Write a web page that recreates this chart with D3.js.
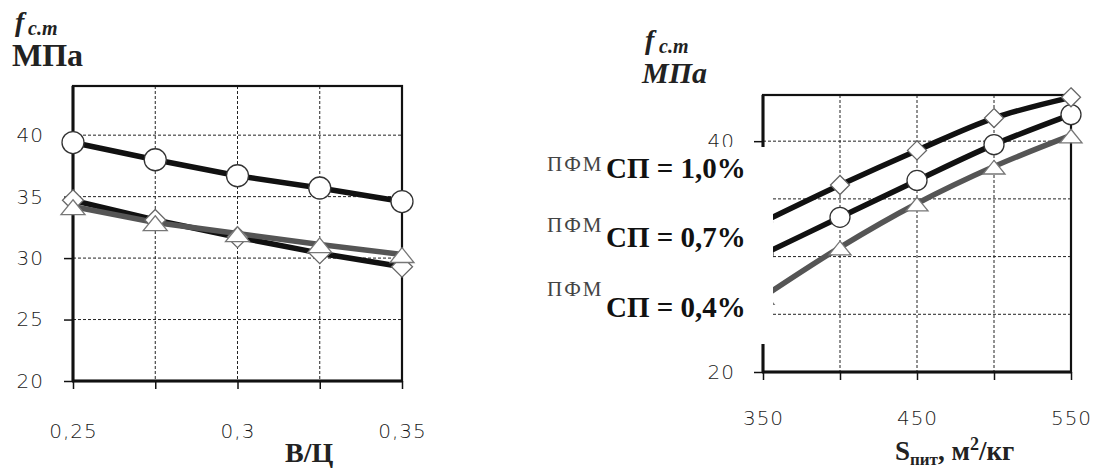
<!DOCTYPE html>
<html><head><meta charset="utf-8">
<script src="https://cdn.jsdelivr.net/npm/d3@7"></script>
<style>
html,body{margin:0;padding:0;background:#fff;}
svg{display:block;}
.tick text{font-family:"DejaVu Sans",Verdana,sans-serif;font-size:20px;font-weight:200;fill:#1a1a1a;letter-spacing:1px;}
.serif{font-family:"Liberation Serif","Times New Roman",serif;}
</style>
</head><body>
<svg id="c" width="1093" height="470"></svg>
<script>
// ---- data ----
const leftX = [0.25, 0.275, 0.3, 0.325, 0.35];
const leftXLabeled = [0.25, 0.3, 0.35];
const leftYTicks = [20, 25, 30, 35, 40];
const leftYLabeled = [20, 25, 30, 35, 40];
const leftCircle = [39.4, 38.0, 36.7, 35.7, 34.6];
const leftDiamond = [34.7, 33.1, 31.7, 30.4, 29.3];
const leftTriangle = [34.2, 32.9, 32.0, 31.1, 30.3];

const rightX = [350, 400, 450, 500, 550];
const rightXLabeled = [350, 450, 550];
const rightYTicks = [20, 25, 30, 35, 40];
const rightYLabeled = [20, 40];
const rightDiamond = [33.0, 36.2, 39.2, 42.0, 43.8];
const rightCircle = [30.2, 33.4, 36.6, 39.7, 42.3];
const rightTriangle = [26.5, 30.8, 34.6, 37.8, 40.5];

const legendValues = ["1,0", "0,7", "0,4"];

// ---- drawing ----
const svg = d3.select("#c");
svg.append("rect").attr("width",1093).attr("height",470).attr("fill","#fff");

function diamondPath(s){return `M0,${-s}L${s},0L0,${s}L${-s},0Z`;}
function trianglePath(s){const h=s*0.9;return `M0,${-h*0.62}L${s},${h*0.75}L${-s},${h*0.75}Z`;}

function drawChart(cfg){
  const g = svg.append("g");
  const x = d3.scaleLinear().domain(cfg.xDomain).range(cfg.xRange);
  const y = d3.scaleLinear().domain(cfg.yDomain).range(cfg.yRange);
  const [x0,x1] = cfg.xRange, [yb,yt] = cfg.yRange;
  // grid
  g.selectAll(".hg").data(cfg.yTicks.filter(v=>v>cfg.yDomain[0])).join("line")
    .attr("x1",x0).attr("x2",x1).attr("y1",d=>y(d)).attr("y2",d=>y(d))
    .attr("stroke","#222").attr("stroke-width",1).attr("stroke-dasharray","3,2");
  g.selectAll(".vg").data(cfg.xs.slice(1,-1)).join("line")
    .attr("x1",d=>x(d)).attr("x2",d=>x(d)).attr("y1",yt).attr("y2",yb)
    .attr("stroke","#222").attr("stroke-width",1).attr("stroke-dasharray","3,2");
  // frame
  g.append("rect").attr("x",x0).attr("y",yt).attr("width",x1-x0).attr("height",yb-yt)
    .attr("fill","none").attr("stroke","#111").attr("stroke-width",2.2);
  g.append("line").attr("x1",x0).attr("x2",x0).attr("y1",yt).attr("y2",yb+1).attr("stroke","#111").attr("stroke-width",3);
  g.append("line").attr("x1",x0-1).attr("x2",x1+1).attr("y1",yb).attr("y2",yb).attr("stroke","#111").attr("stroke-width",3);
  // axes
  const ay = g.append("g").attr("transform",`translate(${x0},0)`)
    .call(d3.axisLeft(y).tickValues(cfg.yTicks).tickSize(9).tickPadding(cfg.yPad)
      .tickFormat(d=>cfg.yLabeled.includes(d)?String(d):""));
  ay.select(".domain").remove();
  ay.selectAll(".tick line").attr("stroke","#111").attr("stroke-width",1.5);
  const ax = g.append("g").attr("transform",`translate(0,${yb})`)
    .call(d3.axisBottom(x).tickValues(cfg.xs).tickSize(8).tickPadding(cfg.xPad)
      .tickFormat(d=>cfg.xLabeled.includes(d)?String(d).replace(".",","):""));
  ax.select(".domain").remove();
  ax.selectAll(".tick line").attr("stroke","#111").attr("stroke-width",1.5);
  // lines
  const line = d3.line().x((d,i)=>x(cfg.xs[i])).y(d=>y(d)).curve(cfg.curve);
  cfg.series.forEach(s=>{
    g.append("path").attr("d",line(s.values)).attr("fill","none")
      .attr("stroke",s.color).attr("stroke-width",5.5).attr("stroke-linejoin","round");
  });
  // markers
  cfg.series.forEach(s=>{
    const m = g.append("g");
    s.values.forEach((v,i)=>{
      const cx=x(cfg.xs[i]), cy=y(v);
      if(s.marker==="circle"){
        m.append("circle").attr("cx",cx).attr("cy",cy).attr("r",cfg.r)
          .attr("fill","#fff").attr("stroke","#333").attr("stroke-width",1.3);
      } else if(s.marker==="diamond"){
        m.append("path").attr("d",diamondPath(cfg.r-0.5)).attr("transform",`translate(${cx},${cy})`)
          .attr("fill","#fff").attr("stroke","#666").attr("stroke-width",1.3);
      } else {
        m.append("path").attr("d",trianglePath(cfg.r+1)).attr("transform",`translate(${cx},${cy})`)
          .attr("fill","#fff").attr("stroke","#777").attr("stroke-width",1.3);
      }
    });
  });
  return g;
}

drawChart({
  xDomain:[0.25,0.35], xRange:[73,402], yDomain:[20,44], yRange:[381,86],
  xs:leftX, xLabeled:leftXLabeled, yTicks:leftYTicks, yLabeled:leftYLabeled, yPad:20, xPad:35, r:11,
  curve:d3.curveLinear,
  series:[
    {values:leftDiamond, color:"#111", marker:"diamond"},
    {values:leftTriangle, color:"#555", marker:"triangle"},
    {values:leftCircle, color:"#111", marker:"circle"}
  ]
});

drawChart({
  xDomain:[350,550], xRange:[763,1071], yDomain:[20,44], yRange:[372,95],
  xs:rightX, xLabeled:rightXLabeled, yTicks:rightYTicks, yLabeled:rightYLabeled, yPad:19, xPad:31, r:10,
  curve:d3.curveMonotoneX,
  series:[
    {values:rightTriangle, color:"#555", marker:"triangle"},
    {values:rightCircle, color:"#111", marker:"circle"},
    {values:rightDiamond, color:"#111", marker:"diamond"}
  ]
});

// white legend area covering part of right chart
svg.append("rect").attr("x",540).attr("y",147).attr("width",233).attr("height",197).attr("fill","#fff");

// legend text
const legY = [[171,178],[232,247],[296,317]];
legendValues.forEach((v,i)=>{
  svg.append("text").attr("class","serif").attr("x",547).attr("y",legY[i][0])
    .attr("font-size",21).attr("fill","#444").attr("letter-spacing",2).text("ПФМ");
  svg.append("text").attr("class","serif").attr("x",606).attr("y",legY[i][1])
    .attr("font-size",29).attr("font-weight","bold").attr("fill","#111").text(`СП = ${v}%`);
});

// axis titles
function yTitle(xf, yf, xs, ys, xm, ym, italicM, sizeM){
  svg.append("text").attr("class","serif").attr("x",xf).attr("y",yf)
    .attr("font-size",28).attr("font-weight","bold").attr("font-style","italic").attr("fill","#222").text("f");
  svg.append("text").attr("class","serif").attr("x",xs).attr("y",ys)
    .attr("font-size",20).attr("font-weight","bold").attr("font-style","italic").attr("fill","#222").text("с.т");
  svg.append("text").attr("class","serif").attr("x",xm).attr("y",ym)
    .attr("font-size",sizeM).attr("font-weight","bold").attr("font-style",italicM?"italic":"normal").attr("fill","#222").text("МПа");
}
yTitle(15,31,28,35,12,66,false,32);
yTitle(645,49,659,53,642,83,true,30);

svg.append("text").attr("class","serif").attr("x",285).attr("y",462)
  .attr("font-size",28).attr("font-weight","bold").attr("fill","#222").text("В/Ц");

const xt = svg.append("text").attr("class","serif").attr("x",895).attr("y",460)
  .attr("font-size",27).attr("font-weight","bold").attr("fill","#222");
xt.append("tspan").text("S");
xt.append("tspan").attr("font-size",17).attr("dy",5).text("пит");
xt.append("tspan").attr("dy",-5).text(", м");
xt.append("tspan").attr("font-size",18).attr("dy",-10).text("2");
xt.append("tspan").attr("dy",10).text("/кг");
</script>
</body></html>
